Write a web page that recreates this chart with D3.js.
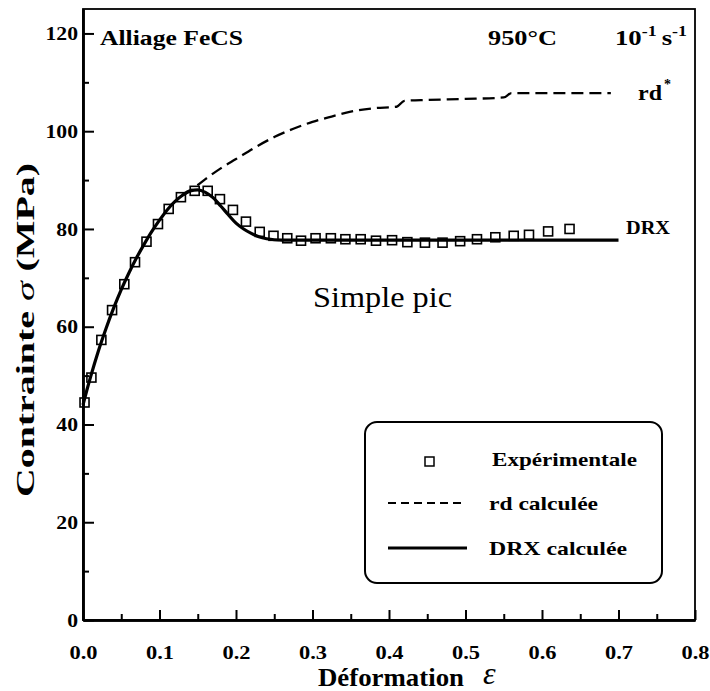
<!DOCTYPE html>
<html lang="fr">
<head>
<meta charset="UTF-8">
<title>Alliage FeCS - contrainte / déformation</title>
<script src="https://cdn.jsdelivr.net/npm/d3@7"></script>
<style>
    body { margin: 0; background: #fff; }
    svg text { font-family: "Liberation Serif", "Times New Roman", serif; fill: #000; }
</style>
</head>
<body>
<svg width="710" height="691" xmlns="http://www.w3.org/2000/svg" id="my-svg"></svg>
<script>
    // points expérimentaux (carrés)
    const expStrain = [0.002, 0.011, 0.024, 0.038, 0.054, 0.068, 0.083, 0.098, 0.112, 0.128,
        0.146, 0.163, 0.179, 0.196, 0.213, 0.231, 0.249, 0.267, 0.285, 0.304,
        0.324, 0.343, 0.363, 0.383, 0.404, 0.424, 0.447, 0.470, 0.493, 0.515,
        0.539, 0.563, 0.583, 0.608, 0.636];
    const expStress = [44.5, 49.6, 57.3, 63.4, 68.7, 73.2, 77.4, 81.0, 84.1, 86.5,
        87.8, 87.8, 86.1, 83.9, 81.5, 79.4, 78.6, 78.1, 77.6, 78.1,
        78.1, 77.9, 77.9, 77.6, 77.7, 77.3, 77.2, 77.2, 77.5, 77.9,
        78.3, 78.6, 78.8, 79.5, 80.0];

    // courbe DRX calculée (trait plein)
    const drxStrain = [0, 0.005, 0.01, 0.02, 0.03, 0.04, 0.05, 0.06, 0.07, 0.08, 0.09, 0.10,
        0.11, 0.12, 0.13, 0.14, 0.15, 0.16, 0.17, 0.18, 0.19, 0.20, 0.21, 0.22, 0.23, 0.24,
        0.26, 0.30, 0.40, 0.50, 0.60, 0.70];
    const drxStress = [44, 47, 49.8, 55, 59.6, 63.8, 67.6, 71, 74.1, 76.9, 79.5, 81.8,
        83.9, 85.6, 86.9, 87.8, 88.0, 87.5, 86.4, 84.7, 82.9, 81.2, 80.0, 79.1, 78.4, 78.0,
        77.7, 77.7, 77.7, 77.7, 77.7, 77.7];

    // courbe rd calculée (tirets)
    const rdStrain = [0.13, 0.14, 0.16, 0.18, 0.20, 0.225, 0.25, 0.275, 0.30, 0.325, 0.35,
        0.38, 0.41, 0.42, 0.45, 0.50, 0.55, 0.56, 0.62, 0.69];
    const rdStress = [86.9, 87.8, 90.2, 92.4, 94.3, 96.7, 98.8, 100.5, 101.9, 103.0, 104.0,
        104.7, 105.0, 106.2, 106.4, 106.6, 106.9, 107.8, 107.8, 107.8];

    const xMajor = [0, 0.1, 0.2, 0.3, 0.4, 0.5, 0.6, 0.7, 0.8];
    const xMinor = [0.05, 0.15, 0.25, 0.35, 0.45, 0.55, 0.65, 0.75];
    const yMajor = [0, 20, 40, 60, 80, 100, 120];
    const yMinor = [10, 30, 50, 70, 90, 110];

    const svg = d3.select("#my-svg");
    const x = d3.scaleLinear().domain([0, 0.8]).range([83, 695]);
    const y = d3.scaleLinear().domain([0, 125]).range([620, 9]);

    // élargir un texte (la police du scan est plus large que Times)
    function widen(sel, k) {
        sel.each(function () {
            const w = this.getComputedTextLength();
            d3.select(this).attr("textLength", w * k).attr("lengthAdjust", "spacingAndGlyphs");
        });
    }

    // cadre
    svg.append("rect")
        .attr("x", x(0)).attr("y", y(125))
        .attr("width", x(0.8) - x(0)).attr("height", y(0) - y(125))
        .attr("fill", "none").attr("stroke", "#000").attr("stroke-width", 1.8);

    // axe y
    const gy = svg.append("g")
        .attr("transform", `translate(${x(0)},0)`)
        .call(d3.axisLeft(y).tickValues(yMajor).tickSizeInner(-11).tickSizeOuter(0)
            .tickPadding(5).tickFormat(d3.format("d")));
    gy.append("g").call(d3.axisLeft(y).tickValues(yMinor).tickSizeInner(-6).tickSizeOuter(0).tickFormat(""));

    // axe x
    const gx = svg.append("g")
        .attr("transform", `translate(0,${y(0)})`)
        .call(d3.axisBottom(x).tickValues(xMajor).tickSizeInner(-10).tickSizeOuter(0)
            .tickPadding(26).tickFormat(d3.format(".1f")));
    gx.append("g").call(d3.axisBottom(x).tickValues(xMinor).tickSizeInner(-6).tickSizeOuter(0).tickFormat(""));

    [gx, gy].forEach(g => {
        g.selectAll(".domain").attr("stroke-width", 2.5);
        g.selectAll(".tick line").attr("stroke-width", 2);
        g.selectAll("text").attr("font-size", 19).attr("font-weight", "bold");
    });
    widen(gx.selectAll(".tick text"), 1.18);
    widen(gy.selectAll(".tick text"), 1.14);

    // courbes
    const line = d3.line().x((d) => x(d[0])).y((d) => y(d[1])).curve(d3.curveMonotoneX);

    svg.append("path")
        .attr("d", line(d3.zip(rdStrain, rdStress)))
        .attr("fill", "none").attr("stroke", "#000")
        .attr("stroke-width", 2.3).attr("stroke-dasharray", "12,6");

    svg.append("path")
        .attr("d", line(d3.zip(drxStrain, drxStress)))
        .attr("fill", "none").attr("stroke", "#000").attr("stroke-width", 3.2);

    svg.append("g").selectAll("rect")
        .data(d3.zip(expStrain, expStress))
        .join("rect")
        .attr("x", (d) => x(d[0]) - 4.5).attr("y", (d) => y(d[1]) - 4.5)
        .attr("width", 9).attr("height", 9)
        .attr("fill", "none").attr("stroke", "#000").attr("stroke-width", 1.6);

    // textes
    function label(txt, px, py, size, bold, w) {
        const t = svg.append("text").attr("x", px).attr("y", py)
            .attr("font-size", size).attr("font-weight", bold ? "bold" : "normal")
            .text(txt);
        if (w) t.attr("textLength", w).attr("lengthAdjust", "spacingAndGlyphs");
        return t;
    }

    label("Alliage FeCS", 100, 45, 20, true, 143);
    label("950°C", 488, 45, 20, true, 69);
    const rate = svg.append("text").attr("x", 615).attr("y", 45)
        .attr("font-size", 21).attr("font-weight", "bold")
        .attr("textLength", 72).attr("lengthAdjust", "spacingAndGlyphs");
    rate.append("tspan").text("10");
    rate.append("tspan").attr("dy", -9).attr("font-size", 14).text("-1");
    rate.append("tspan").attr("dy", 9).attr("dx", 4).text("s");
    rate.append("tspan").attr("dy", -9).attr("font-size", 14).text("-1");

    label("rd", 638, 100, 20, true, 24);
    svg.append("text").attr("x", 664).attr("y", 89).attr("font-size", 14)
        .attr("font-weight", "bold").text("*");
    label("DRX", 626, 234, 19, true, 44);
    label("Simple pic", 313, 307, 30, false, 139);

    // titres des axes
    label("Déformation", 318, 686, 26, true, 146);
    svg.append("text").attr("x", 483).attr("y", 684)
        .attr("font-size", 32).attr("font-style", "italic").text("ε");

    const yt = svg.append("text")
        .attr("transform", "translate(34,330) rotate(-90)")
        .attr("text-anchor", "middle")
        .attr("font-size", 25).attr("font-weight", "bold")
        .attr("textLength", 334).attr("lengthAdjust", "spacingAndGlyphs");
    yt.append("tspan").text("Contrainte ");
    yt.append("tspan").attr("font-style", "italic").attr("font-weight", "normal").text("σ");
    yt.append("tspan").text(" (MPa)");

    // légende
    const lg = svg.append("g");
    lg.append("rect").attr("x", 365).attr("y", 422).attr("width", 297).attr("height", 161)
        .attr("rx", 12).attr("fill", "#fff").attr("stroke", "#000").attr("stroke-width", 2);
    lg.append("rect").attr("x", 425).attr("y", 457).attr("width", 9).attr("height", 9)
        .attr("fill", "none").attr("stroke", "#000").attr("stroke-width", 1.5);
    lg.append("line").attr("x1", 388).attr("x2", 466).attr("y1", 503).attr("y2", 503)
        .attr("stroke", "#000").attr("stroke-width", 2).attr("stroke-dasharray", "8,5");
    lg.append("line").attr("x1", 388).attr("x2", 467).attr("y1", 548).attr("y2", 548)
        .attr("stroke", "#000").attr("stroke-width", 3);
    label("Expérimentale", 492, 466, 19, true, 145);
    label("rd calculée", 489, 510, 19, true, 109);
    label("DRX calculée", 489, 555, 19, true, 138);
</script>
</body>
</html>
